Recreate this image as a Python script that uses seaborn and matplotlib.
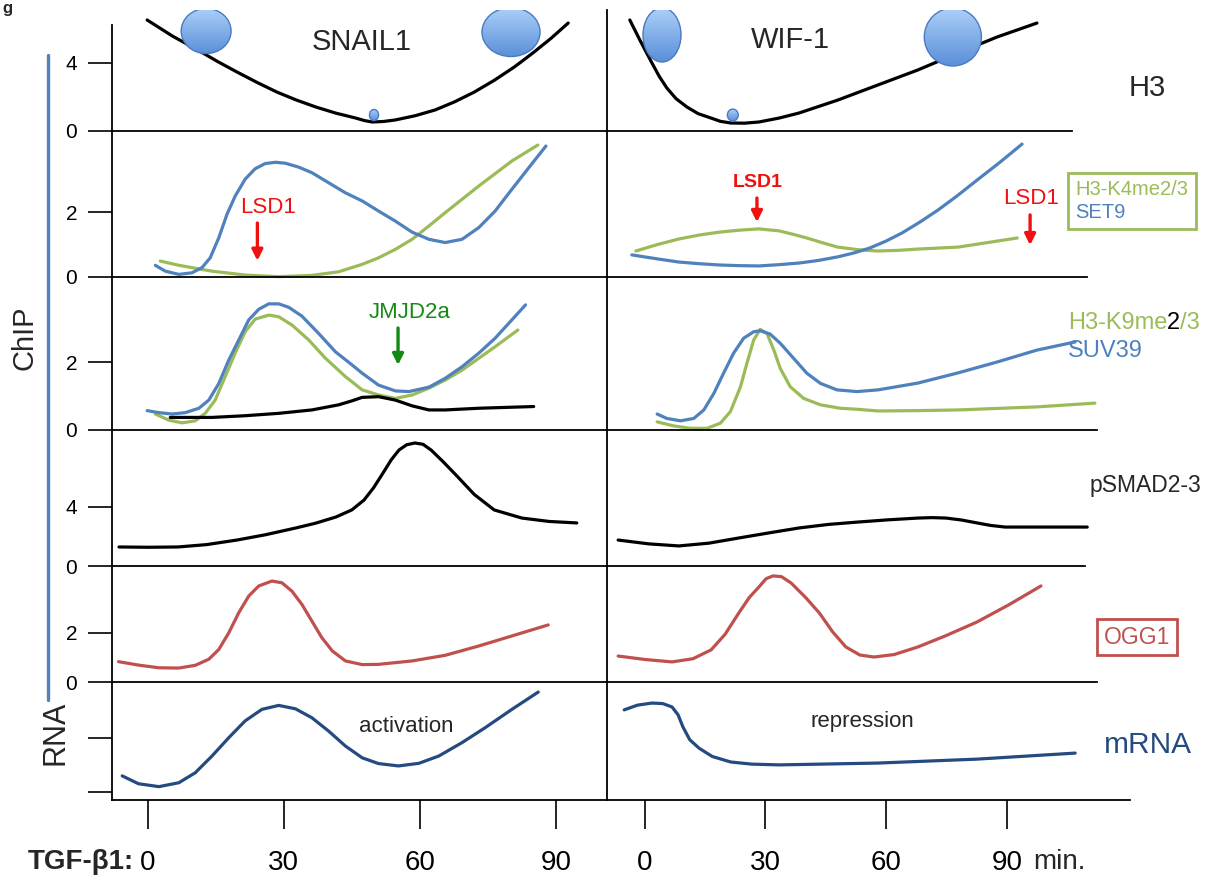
import numpy as np
import matplotlib
matplotlib.use("Agg")
import matplotlib.pyplot as plt
import matplotlib.transforms as mtransforms
from matplotlib.patches import Ellipse
from matplotlib.colors import LinearSegmentedColormap
import seaborn as sns

# ---------------------------------------------------------------------------
# Data (time in min, signal in arbitrary ChIP units)
# ---------------------------------------------------------------------------
time_ticks = [0, 30, 60, 90]

# row 1: H3
snail_h3_t = [-0.1, 5.5, 11.1, 15.4, 19.7, 24.1, 28.5, 32.8, 37.1, 41.5, 45.9, 47.7, 49.5, 52.0,
              54.6, 59.0, 63.4, 67.7, 72.0, 76.4, 80.8, 83.0, 85.2, 89.0, 92.7]
snail_h3_y = [6.53, 5.58, 4.76, 4.09, 3.47, 2.86, 2.29, 1.82, 1.41, 1.05, 0.76, 0.62, 0.53, 0.56,
              0.65, 0.90, 1.24, 1.72, 2.29, 2.98, 3.76, 4.20, 4.65, 5.47, 6.35]
wif_h3_t = [-3.7, -1.2, 1.8, 3.6, 5.5, 7.8, 10.5, 13.3, 16.5, 18.8, 21.4, 24.8, 28.4, 33.4,
            38.4, 48.0, 58.0, 67.9, 77.9, 87.6, 97.5]
wif_h3_y = [6.53, 5.35, 4.0, 3.22, 2.53, 1.90, 1.41, 1.02, 0.76, 0.57, 0.47, 0.46, 0.53, 0.76,
            1.06, 1.82, 2.71, 3.59, 4.59, 5.53, 6.35]

# row 2: SET9 / H3-K4me2/3
snail_set9_t = [1.7, 3.9, 6.9, 9.8, 12.0, 13.8, 15.7, 17.5, 19.3, 21.5, 23.7, 25.9, 28.2, 30.4,
                33.3, 36.2, 39.9, 43.6, 47.3, 50.9, 54.6, 58.3, 62.0, 65.6, 69.3, 73.0, 76.6,
                80.3, 84.0, 87.8]
snail_set9_y = [0.36, 0.18, 0.08, 0.13, 0.29, 0.59, 1.21, 1.93, 2.49, 3.01, 3.33, 3.49, 3.53, 3.50,
                3.38, 3.21, 2.90, 2.59, 2.34, 2.03, 1.72, 1.38, 1.16, 1.06, 1.16, 1.52, 2.03,
                2.70, 3.36, 4.03]
snail_k4_t = [2.8, 6.9, 10.5, 14.2, 21.5, 28.9, 36.2, 42.1, 47.3, 50.9, 54.6, 58.3, 62.0, 65.6,
              69.3, 73.0, 76.6, 80.3, 86.0]
snail_k4_y = [0.49, 0.36, 0.27, 0.18, 0.06, 0.01, 0.05, 0.16, 0.39, 0.59, 0.85, 1.16, 1.57, 1.98,
              2.39, 2.80, 3.18, 3.57, 4.06]
wif_set9_t = [-3.2, 3.0, 8.5, 13.5, 18.5, 23.4, 28.4, 33.4, 38.4, 43.2, 48.0, 52.0, 55.9, 59.9,
              63.9, 68.4, 72.9, 77.7, 82.6, 88.2, 93.8]
wif_set9_y = [0.68, 0.56, 0.46, 0.41, 0.37, 0.35, 0.34, 0.38, 0.43, 0.51, 0.62, 0.74, 0.89, 1.10,
              1.35, 1.69, 2.06, 2.50, 2.98, 3.52, 4.09]
wif_k4_t = [-2.2, 3.2, 8.5, 13.5, 18.5, 23.4, 28.4, 33.4, 37.0, 40.3, 44.0, 48.0, 53.0, 58.0,
            63.0, 67.9, 77.9, 92.6]
wif_k4_y = [0.80, 1.00, 1.17, 1.29, 1.38, 1.44, 1.48, 1.42, 1.31, 1.20, 1.06, 0.92, 0.84, 0.80,
            0.82, 0.86, 0.92, 1.20]

# row 3: SUV39 / H3-K9me2/3 (+ black trace on SNAIL1)
snail_suv39_t = [-0.1, 2.5, 5.4, 8.3, 11.3, 13.5, 15.7, 17.9, 20.1, 22.3, 24.5, 26.7, 28.9, 31.1,
                 34.0, 37.7, 41.4, 45.1, 47.3, 50.9, 54.6, 57.6, 62.0, 65.6, 69.3, 73.0, 76.6,
                 80.3, 83.3]
snail_suv39_y = [0.57, 0.51, 0.47, 0.51, 0.64, 0.88, 1.37, 2.06, 2.65, 3.24, 3.55, 3.71, 3.71, 3.61,
                 3.35, 2.84, 2.30, 1.91, 1.67, 1.32, 1.15, 1.13, 1.26, 1.52, 1.86, 2.26, 2.70,
                 3.24, 3.68]
snail_k9_t = [1.7, 4.7, 7.6, 10.5, 12.7, 14.9, 17.1, 19.3, 21.5, 23.7, 26.7, 28.9, 31.8, 35.5,
              39.2, 43.6, 47.3, 50.9, 54.6, 58.3, 62.0, 65.6, 69.3, 73.0, 76.6, 81.6]
snail_k9_y = [0.47, 0.29, 0.21, 0.27, 0.49, 0.88, 1.57, 2.26, 2.89, 3.26, 3.38, 3.33, 3.09, 2.65,
              2.11, 1.57, 1.18, 1.03, 0.93, 1.03, 1.23, 1.47, 1.76, 2.11, 2.45, 2.94]
snail_jmjd_t = [5.0, 14.2, 21.5, 28.9, 36.2, 42.1, 45.1, 47.3, 50.9, 54.6, 58.3, 62.0, 65.6,
                73.0, 85.1]
snail_jmjd_y = [0.37, 0.37, 0.42, 0.49, 0.59, 0.74, 0.86, 0.96, 0.98, 0.88, 0.71, 0.59, 0.59,
                0.64, 0.69]
wif_suv39_t = [3.1, 5.5, 8.9, 12.2, 14.7, 17.2, 19.6, 22.1, 24.6, 27.1, 28.7, 31.2, 33.7, 37.0,
               40.3, 43.7, 47.8, 52.8, 58.0, 67.9, 77.9, 87.6, 97.5, 107.0]
wif_suv39_y = [0.47, 0.34, 0.27, 0.34, 0.59, 1.08, 1.67, 2.26, 2.70, 2.89, 2.92, 2.82, 2.55, 2.11,
               1.67, 1.37, 1.18, 1.13, 1.18, 1.38, 1.68, 2.00, 2.35, 2.59]
wif_k9_t = [3.1, 7.2, 11.3, 15.5, 18.8, 21.3, 23.8, 25.4, 27.1, 28.7, 30.4, 32.1, 33.7, 36.2,
            39.5, 43.7, 48.6, 52.8, 58.0, 67.9, 77.9, 97.5, 111.9]
wif_k9_y = [0.24, 0.12, 0.05, 0.05, 0.20, 0.54, 1.27, 1.96, 2.65, 2.96, 2.84, 2.35, 1.81, 1.27,
            0.93, 0.74, 0.64, 0.61, 0.56, 0.57, 0.59, 0.68, 0.79]

# row 4: pSMAD2-3
snail_psmad_t = [-6.3, 0.2, 6.7, 13.0, 19.7, 26.0, 32.7, 37.0, 41.5, 45.0, 47.7, 49.8, 51.9, 53.7,
                 55.4, 57.1, 58.9, 60.7, 62.5, 65.2, 68.4, 72.0, 76.4, 82.5, 88.5, 94.6]
snail_psmad_y = [1.29, 1.27, 1.29, 1.45, 1.76, 2.12, 2.58, 2.90, 3.32, 3.80, 4.47, 5.30, 6.31, 7.20,
                 7.86, 8.22, 8.34, 8.25, 7.86, 7.05, 6.03, 4.85, 3.80, 3.25, 3.02, 2.92]
wif_psmad_t = [-6.6, 1.0, 8.5, 16.0, 23.4, 31.0, 38.4, 45.7, 53.0, 60.5, 67.9, 71.4, 74.9, 78.7,
               82.6, 86.0, 89.6, 95.0, 110.0]
wif_psmad_y = [1.76, 1.50, 1.36, 1.55, 1.90, 2.25, 2.58, 2.82, 2.98, 3.13, 3.25, 3.28, 3.25, 3.12,
               2.92, 2.75, 2.64, 2.64, 2.64]

# row 5: OGG1
snail_ogg1_t = [-6.4, -2.0, 2.5, 6.9, 10.5, 13.5, 15.7, 17.9, 20.1, 22.3, 24.5, 27.4, 29.6, 31.8,
                34.0, 36.2, 38.4, 40.7, 43.6, 47.3, 50.9, 58.3, 65.6, 73.0, 80.3, 88.3]
snail_ogg1_y = [0.83, 0.69, 0.58, 0.57, 0.68, 0.93, 1.33, 2.01, 2.83, 3.51, 3.92, 4.12, 4.05, 3.71,
                3.17, 2.49, 1.81, 1.27, 0.86, 0.71, 0.72, 0.86, 1.09, 1.47, 1.88, 2.33]
wif_ogg1_t = [-6.6, 0.0, 6.8, 12.0, 16.5, 20.0, 23.4, 26.0, 28.4, 30.2, 31.9, 34.0, 36.4, 40.0,
              43.4, 46.7, 50.0, 53.5, 57.0, 62.0, 67.9, 75.0, 82.6, 90.5, 98.5]
wif_ogg1_y = [1.06, 0.92, 0.82, 0.95, 1.31, 1.95, 2.82, 3.45, 3.88, 4.22, 4.33, 4.30, 4.04, 3.45,
              2.82, 2.05, 1.43, 1.10, 1.02, 1.12, 1.43, 1.90, 2.45, 3.15, 3.92]

# row 6: mRNA
snail_mrna_t = [-5.6, -2.0, 2.5, 6.9, 10.5, 14.2, 17.9, 21.5, 25.2, 28.9, 32.6, 36.2, 39.9, 43.6,
                47.3, 50.9, 55.3, 59.8, 64.2, 69.3, 74.4, 80.3, 86.1]
snail_mrna_y = [0.92, 0.62, 0.51, 0.66, 1.04, 1.68, 2.38, 3.02, 3.46, 3.61, 3.48, 3.14, 2.63, 2.06,
                1.61, 1.39, 1.30, 1.40, 1.68, 2.19, 2.76, 3.46, 4.12]
wif_mrna_t = [-5.1, -1.8, 1.8, 4.5, 6.8, 8.3, 9.5, 11.2, 13.5, 16.8, 21.4, 26.5, 33.4, 58.0,
              82.6, 107.0]
wif_mrna_y = [3.44, 3.62, 3.70, 3.68, 3.55, 3.25, 2.79, 2.30, 1.98, 1.66, 1.45, 1.37, 1.34, 1.41,
              1.56, 1.79]

# nucleosome "balls" on the H3 row
ball_col = ["left", "left", "left", "right", "right", "right"]
ball_t = [12.9, 80.1, 49.9, 4.3, 76.6, 21.9]
ball_y = [5.88, 5.82, 0.94, 5.65, 5.53, 0.94]
ball_w = [11.0, 12.8, 2.0, 9.45, 14.2, 2.7]
ball_h = [2.65, 2.88, 0.65, 3.18, 3.41, 0.70]

# enzyme arrows: column, row, label, label position, arrow x, arrow from/to
arrow_col = ["left", "right", "right", "left"]
arrow_row = [1, 1, 1, 2]
arrow_text = ["LSD1", "LSD1", "LSD1", "JMJD2a"]
arrow_text_t = [26.6, 28.2, 96.0, 57.8]
arrow_text_y = [2.15, 2.92, 2.43, 3.47]
arrow_t = [24.2, 27.9, 95.8, 55.2]
arrow_y0 = [1.66, 2.43, 1.91, 3.0]
arrow_y1 = [0.50, 1.69, 0.98, 1.91]

# ---------------------------------------------------------------------------
# Style / layout
# ---------------------------------------------------------------------------
BLUE = "#4f81bd"
GREEN = "#9bbb59"
RED = "#c0504d"
NAVY = "#244a80"
ARROW_RED = "#f01010"
DARK_GREEN = "#148a14"

sns.set_theme(style="white")
plt.rcParams["font.family"] = ["Liberation Sans", "DejaVu Sans"]

W, H, DPI = 1223, 882, 100
fig = plt.figure(figsize=(W / DPI, H / DPI), dpi=DPI)


def fx(px):
    return px / W


def fy(py):
    return 1 - py / H


ROW_EDGES = [10, 131, 277, 430, 566, 682, 800]       # pixel rows
COL_X = {"left": (112, 607), "right": (607, 1130)}
T_ZERO = {"left": 147.6, "right": 644.7}             # pixel of t=0 min
T_PPM = {"left": 4.537, "right": 4.023}              # pixels per minute
Y_PPU = [17.0, 32.5, 34.0, 14.75, 24.5, 26.2]        # pixels per unit
RIGHT_LINE_END = [1072, 1087, 1097, 1085, 1097, 1130]
Y_TICKS = [[0, 4], [0, 2], [0, 2], [0, 4], [0, 2], [0.3, 2.35]]

axes = {}
for col, (x0, x1) in COL_X.items():
    for r in range(6):
        top, bot = ROW_EDGES[r], ROW_EDGES[r + 1]
        ax = fig.add_axes([fx(x0), fy(bot), (x1 - x0) / W, (bot - top) / H])
        ax.set_xlim((x0 - T_ZERO[col]) / T_PPM[col], (x1 - T_ZERO[col]) / T_PPM[col])
        ax.set_ylim(0, (bot - top) / Y_PPU[r])
        ax.patch.set_alpha(0)
        for s in ["top", "right"]:
            ax.spines[s].set_visible(False)
        for s in ["left", "bottom"]:
            ax.spines[s].set_color("black")
            ax.spines[s].set_linewidth(1.3)
        if col == "right":
            ax.spines["bottom"].set_bounds(ax.get_xlim()[0],
                                           (RIGHT_LINE_END[r] - T_ZERO[col]) / T_PPM[col])
            ax.set_yticks([])
        else:
            ax.set_yticks(Y_TICKS[r])
            if r == 5:
                ax.set_yticklabels([])
            else:
                ax.set_yticklabels([str(v) for v in Y_TICKS[r]])
            ax.tick_params(axis="y", direction="out", length=17, width=1.2, pad=8,
                           labelsize=15, colors="black", left=True)
        if r == 0 and col == "left":
            ax.spines["left"].set_bounds(0, (131 - 25) / Y_PPU[0])
        if r == 5:
            ax.set_xticks(time_ticks)
            ax.set_xticklabels([str(v) for v in time_ticks])
            ax.tick_params(axis="x", direction="out", length=21, width=1.2, pad=15,
                           labelsize=20, colors="black", bottom=True)
        else:
            ax.set_xticks([])
        axes[(col, r)] = ax

# ---------------------------------------------------------------------------
# Curves
# ---------------------------------------------------------------------------
series = [
    ("left", 0, snail_h3_t, snail_h3_y, "black"),
    ("right", 0, wif_h3_t, wif_h3_y, "black"),
    ("left", 1, snail_k4_t, snail_k4_y, GREEN),
    ("left", 1, snail_set9_t, snail_set9_y, BLUE),
    ("right", 1, wif_k4_t, wif_k4_y, GREEN),
    ("right", 1, wif_set9_t, wif_set9_y, BLUE),
    ("left", 2, snail_k9_t, snail_k9_y, GREEN),
    ("left", 2, snail_suv39_t, snail_suv39_y, BLUE),
    ("left", 2, snail_jmjd_t, snail_jmjd_y, "black"),
    ("right", 2, wif_k9_t, wif_k9_y, GREEN),
    ("right", 2, wif_suv39_t, wif_suv39_y, BLUE),
    ("left", 3, snail_psmad_t, snail_psmad_y, "black"),
    ("right", 3, wif_psmad_t, wif_psmad_y, "black"),
    ("left", 4, snail_ogg1_t, snail_ogg1_y, RED),
    ("right", 4, wif_ogg1_t, wif_ogg1_y, RED),
    ("left", 5, snail_mrna_t, snail_mrna_y, NAVY),
    ("right", 5, wif_mrna_t, wif_mrna_y, NAVY),
]
for col, r, t, y, color in series:
    ax = axes[(col, r)]
    sns.lineplot(x=t, y=y, ax=ax, color=color, linewidth=2.3, estimator=None, sort=False)
    line = ax.lines[-1]
    line.set_clip_on(False)
    line.set_solid_joinstyle("round")
    line.set_solid_capstyle("round")
    ax.set_xlabel("")
    ax.set_ylabel("")

# nucleosome balls with a vertical light-to-dark gradient
ball_cmap = LinearSegmentedColormap.from_list("ball", ["#abcff9", "#5a8fd8"])
grad = np.linspace(0, 1, 64).reshape(-1, 1)
for col, t, y, w, h in zip(ball_col, ball_t, ball_y, ball_w, ball_h):
    ax = axes[(col, 0)]
    xl, yl = ax.get_xlim(), ax.get_ylim()
    ell = Ellipse((t, y), w, h, facecolor="none", edgecolor="#4a7ac0", lw=1.0, zorder=4)
    ax.add_patch(ell)
    im = ax.imshow(grad, cmap=ball_cmap, aspect="auto", origin="upper",
                   extent=[t - w / 2, t + w / 2, y - h / 2, y + h / 2], zorder=3)
    im.set_clip_path(ell)
    ax.set_xlim(xl)
    ax.set_ylim(yl)

# enzyme arrows
for col, r, txt, tt, ty, at, y0, y1 in zip(arrow_col, arrow_row, arrow_text, arrow_text_t,
                                           arrow_text_y, arrow_t, arrow_y0, arrow_y1):
    ax = axes[(col, r)]
    color = DARK_GREEN if txt == "JMJD2a" else ARROW_RED
    bold = col == "right" and tt < 50
    ax.text(tt, ty, txt, color=color, ha="center", va="center",
            fontsize=14 if bold else 16, fontweight="bold" if bold else "normal")
    ax.annotate("", xy=(at, y1), xytext=(at, y0),
                arrowprops=dict(arrowstyle="-|>", color=color, lw=2.4, mutation_scale=16,
                                shrinkA=0, shrinkB=0))

axes[("left", 5)].text(57.0, 2.80, "activation", fontsize=16, ha="center", va="center")
axes[("right", 5)].text(54.0, 2.98, "repression", fontsize=16, ha="center", va="center")

# "min." after the last time label
ax = axes[("right", 5)]
off = mtransforms.ScaledTranslation(26 / DPI, 0, fig.dpi_scale_trans)
ax.text(90, fy(862), "min.", fontsize=20, ha="left", va="center",
        transform=mtransforms.blended_transform_factory(ax.transData, fig.transFigure) + off,
        clip_on=False)

# ---------------------------------------------------------------------------
# Labels around the panels
# ---------------------------------------------------------------------------
fig.text(fx(362), fy(42), "SNAIL1", fontsize=21, ha="center", va="center")
fig.text(fx(790), fy(40), "WIF-1", fontsize=21, ha="center", va="center")
fig.text(fx(1147), fy(88), "H3", fontsize=21, ha="center", va="center")
fig.text(fx(25), fy(338), "ChIP", fontsize=21, rotation=90, ha="center", va="center")
fig.text(fx(55), fy(733), "RNA", fontsize=22, rotation=90, ha="center", va="center")
fig.text(fx(81), fy(862), "TGF-β1:", fontsize=20, fontweight="bold", ha="center", va="center")
fig.text(fx(2), fy(1), "g", fontsize=12, fontweight="bold", ha="left", va="top")
fig.add_artist(plt.Line2D([fx(48), fx(48)], [fy(55), fy(700)], color=BLUE, lw=2.4))

leg = fig.legend(handles=[plt.Line2D([], [], ls="none")] * 2, labels=["H3-K4me2/3", "SET9"],
                 labelcolor=[GREEN, BLUE], handlelength=0, handletextpad=0, loc="center",
                 bbox_to_anchor=(fx(1132), fy(201)), frameon=True, fancybox=False,
                 edgecolor=GREEN, framealpha=1, fontsize=14.5, borderpad=0.35,
                 labelspacing=0.15)
leg.get_frame().set_linewidth(2)

t1 = fig.text(fx(1068), fy(323), "H3-K9me", fontsize=17, color=GREEN, ha="left", va="center")
t2 = fig.text(0, 0, "2", fontsize=17, color="black", ha="left", va="bottom")
t3 = fig.text(0, 0, "/3", fontsize=17, color=GREEN, ha="left", va="bottom")
fig.canvas.draw()
bb1 = t1.get_window_extent()
t2.set_position((bb1.x1 / W, bb1.y0 / H))
fig.canvas.draw()
bb2 = t2.get_window_extent()
t3.set_position((bb2.x1 / W, bb2.y0 / H))
fig.text(fx(1068), fy(351), "SUV39", fontsize=17, color=BLUE, ha="left", va="center")

fig.text(fx(1090), fy(486), "pSMAD2-3", fontsize=16.5, ha="left", va="center")
fig.text(fx(1137), fy(637), "OGG1", fontsize=16.5, color=RED, ha="center", va="center",
         bbox=dict(boxstyle="square,pad=0.3", fc="white", ec=RED, lw=2))
fig.text(fx(1148), fy(745), "mRNA", fontsize=21.5, color=NAVY, ha="center", va="center")

fig.savefig("out.png", dpi=DPI)
